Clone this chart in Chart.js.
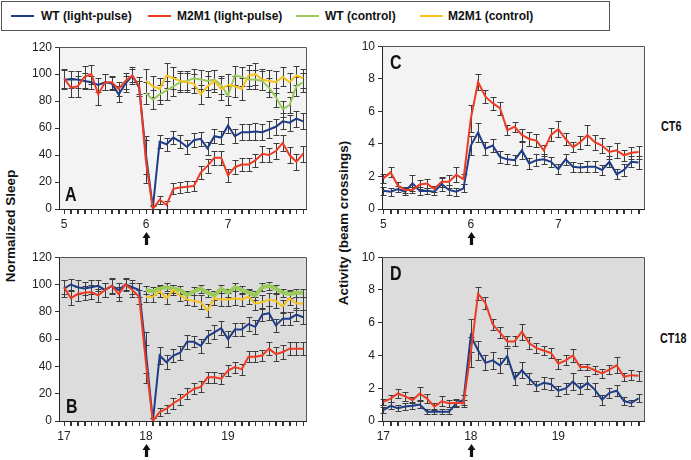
<!DOCTYPE html>
<html>
<head>
<meta charset="utf-8">
<title>Sleep and activity after a light pulse</title>
<script src="https://cdn.jsdelivr.net/npm/chart.js@4.4.1/dist/chart.umd.min.js"></script>
<style>
  html, body { margin: 0; padding: 0; background: #fff; }
  body { position: relative; width: 691px; height: 460px; overflow: hidden; font-family: "Liberation Sans", Arial, sans-serif; color: #111; }
  canvas { position: absolute; }
  #legend { position: absolute; left: 1px; top: 1px; width: 609px; height: 30px; box-sizing: border-box; border: 1px solid #555; }
  .key { position: absolute; top: 9px; font-size: 12px; font-weight: bold; white-space: nowrap; line-height: 14px; }
  .key i { position: absolute; top: 6px; width: 23px; height: 2px; }
  .ytitle { position: absolute; width: 240px; height: 18px; line-height: 18px; text-align: center; font-size: 13.5px; font-weight: bold; white-space: nowrap; transform: rotate(-90deg); }
  .ct { position: absolute; font: bold 15px "Liberation Sans", Arial, sans-serif; line-height: 17px; transform: scaleX(0.72); transform-origin: 0 0; }
</style>
</head>
<body>
<div id="legend"></div>
<div class="key" style="left:41px"><i style="left:-30px;background:#1f3d86"></i>WT (light-pulse)</div>
<div class="key" style="left:177px"><i style="left:-29px;background:#ee3b24"></i>M2M1 (light-pulse)</div>
<div class="key" style="left:325px"><i style="left:-29px;background:#9acb5a"></i>WT (control)</div>
<div class="key" style="left:448px"><i style="left:-28px;background:#f6c21b"></i>M2M1 (control)</div>

<div class="ytitle" style="left:-109px;top:217px">Normalized Sleep</div>
<div class="ytitle" style="left:224px;top:214px">Activity (beam crossings)</div>
<div class="ct" style="left:661px;top:117px">CT6</div>
<div class="ct" style="left:660px;top:329px">CT18</div>

<canvas id="chartA" width="292" height="213" style="left:20px;top:37px"></canvas>
<canvas id="chartB" width="292" height="213" style="left:20px;top:247px"></canvas>
<canvas id="chartC" width="300" height="214" style="left:350px;top:36px"></canvas>
<canvas id="chartD" width="300" height="213" style="left:350px;top:247px"></canvas>

<script>
// 2-hour bins, 12 per day; light pulse at the start of bin 12
const BINS_PER_DAY = 12;
const CONTROL_START_BIN = 12;

// Panel A: sleep, pulse at CT6 (days 5-7)
const sleepWtPulseA   = [96,96,96,95,94,92,94,93,85,93,99,90,40,1,50,48,53,50,46,51,52,45,54,53,62,54,57,57,57.5,57,59,61,65,64,67,65];
const sleepM2PulseA   = [97,90,91,98,100,85,94,94,89,95,99,91,35,0,7,3,15,16,16.5,17,27,32,38,38,25,31,33,33,36,41,40,43,49,40,35,41];
const sleepWtCtrlA    = [86,81,85,88,91,94,95,97,96,95,96,92,84,99,98,96,96,95,90,83,74,77,91,94];
const sleepM2CtrlA    = [95,91,89,99,97,95,94,93,85,91,95,89,92,91,89,99,100,96,95,94,98,94,99,97];
const errWtPulseA     = [7,6,6,6,5,5,6,5,6,6,5,5,14,2,5,5,5,5,5,5,5,5,5,5,6,5,6,6,6,6,6,6,6,6,6,6];
const errM2PulseA     = [7,7,8,8,7,8,6,5,5,6,6,7,16,2,3,3,4,4,4,4,5,5,5,5,5,5,5,5,5,6,5,6,6,6,6,6];
const errWtCtrlA      = [8,7,7,7,7,7,7,7,7,7,7,7,7,7,7,7,7,7,7,7,6,6,7,7];
const errM2CtrlA      = [9,8,8,9,8,7,7,7,7,8,8,8,8,8,8,8,8,8,8,8,7,7,7,7];

// Panel B: sleep, pulse at CT18 (days 17-19)
const sleepWtPulseB   = [97,100,98,97,98,99,96,99,96,100,98,96,50,0,48,43,48,50,58,58,55,62,65,68,60,67,67,71,69,78,79,70,75,75,78,76];
const sleepM2PulseB   = [98,90,93,94,94.5,92,96,99,93,100,96,91,42,0,6.5,9,13,16,20,23.5,25,32,32,31,37,39.5,38,47,47,48,53,49,50.5,53,53,53];
const sleepWtCtrlB    = [96,95,97,98,97,96,92,95,97,94,92,97,94,98,96,94,92,98,99,97,94,93,94,94];
const sleepM2CtrlB    = [91,91,95,90,96,92,89,88,87,81,90,89,89,90,89,91,86,87,89,88,84,90,86,86];
const errWtPulseB     = [6,4,5,5,5,4,5,6,5,4,5,5,15,2,6,5,5,5,5,4,5,5,5,5,6,5,5,5,5,5,5,5,5,5,5,5];
const errM2PulseB     = [5,5,5,5,5,5,5,5,5,5,5,5,14,2,3,3,4,4,4,4,4,4,4,4,4,4,4,4,4,4,5,5,5,5,5,5];
const errWtCtrlB      = [3,3,3,3,3,3,3,3,3,3,3,3,3,3,3,3,3,3,3,3,3,3,3,3];
const errM2CtrlB      = [4,4,4,4,4,4,4,4,5,5,5,5,5,5,5,5,5,5,5,5,5,5,5,5];

// Panel C: activity, pulse at CT6
const actWtPulseC     = [1.12,1.06,1.23,1.06,1.58,1.1,1.12,1.06,1.53,1.17,1.06,1.27,3.9,4.7,3.7,3.9,3.2,3.05,3.0,3.6,2.8,3.0,3.05,2.9,2.45,3.05,2.6,2.55,2.6,2.6,2.4,2.9,2.13,2.4,2.9,2.85];
const actM2PulseC     = [1.88,2.25,1.43,1.16,1.16,1.5,1.56,1.23,1.68,1.68,2.1,1.84,5.56,7.8,6.9,6.5,6.2,4.85,5.05,4.55,4.3,4.2,3.6,4.55,4.9,4.3,3.8,4.1,4.55,4.1,3.9,3.5,3.6,3.3,3.45,3.5];
const errActWtC       = [0.25,0.25,0.2,0.2,0.5,0.25,0.2,0.2,0.4,0.3,0.25,0.25,0.6,0.6,0.4,0.4,0.35,0.3,0.3,0.5,0.35,0.35,0.3,0.3,0.3,0.35,0.3,0.3,0.35,0.35,0.3,0.35,0.3,0.35,0.35,0.4];
const errActM2C       = [0.3,0.3,0.2,0.2,0.2,0.3,0.3,0.2,0.3,0.4,0.45,0.3,0.8,0.5,0.4,0.4,0.4,0.3,0.3,0.35,0.4,0.4,0.35,0.4,0.5,0.35,0.3,0.4,0.6,0.45,0.45,0.4,0.45,0.35,0.35,0.4];

// Panel D: activity, pulse at CT18
const actWtPulseD     = [0.67,0.93,0.78,0.89,0.93,1.0,0.57,0.57,0.57,0.57,1.08,1.28,5.2,4.3,3.55,3.7,3.4,3.96,2.6,3.1,2.6,2.13,2.33,2.25,1.85,1.99,2.4,1.99,2.33,1.92,1.3,1.72,1.85,1.22,1.1,1.38];
const actM2PulseD     = [1.17,1.37,1.68,1.5,1.27,1.68,1.37,0.87,1.2,1.08,1.12,1.08,4.2,7.77,7.2,5.9,5.4,4.86,4.86,5.45,4.76,4.45,4.3,4.15,3.5,3.7,4.0,3.3,3.3,3.1,2.9,3.14,3.4,2.7,2.8,2.76];
const errActWtD       = [0.2,0.2,0.2,0.2,0.2,0.2,0.15,0.15,0.15,0.15,0.2,0.3,1.0,0.6,0.45,0.5,0.45,0.5,0.4,0.5,0.35,0.3,0.35,0.35,0.3,0.35,0.5,0.35,0.4,0.4,0.3,0.3,0.35,0.25,0.2,0.25];
const errActM2D       = [0.2,0.2,0.25,0.3,0.2,0.4,0.3,0.2,0.3,0.2,0.2,0.2,0.9,0.4,0.35,0.35,0.35,0.3,0.3,0.5,0.35,0.3,0.3,0.3,0.3,0.3,0.4,0.2,0.2,0.25,0.3,0.3,0.5,0.25,0.3,0.3];

// Axis ticks
const sleepTicks    = [0, 20, 40, 60, 80, 100, 120];
const activityTicks = [0, 2, 4, 6, 8, 10];

const BLUE = '#1f3d86', RED = '#ee3b24', GREEN = '#9acb5a', YELLOW = '#f6c21b';
const FONT = '"Liberation Sans", Arial, sans-serif';

// bin index -> day position
function points(day0, startBin, vals) {
  return vals.map((v, i) => ({ x: day0 + (startBin + i) / BINS_PER_DAY, y: v }));
}

function line(label, color, day0, startBin, vals, err, width, order) {
  return {
    label, data: points(day0, startBin, vals), err,
    borderColor: color, backgroundColor: color,
    borderWidth: width, pointRadius: 0, tension: 0, order
  };
}

// background, error bars, frame, bin ticks, panel letter and pulse arrow
const panelPlugin = {
  id: 'panel',
  beforeDraw(chart, args, o) {
    const { ctx, chartArea: a } = chart;
    ctx.save();
    ctx.fillStyle = o.bg;
    ctx.fillRect(a.left, a.top, a.right - a.left, a.bottom - a.top);
    ctx.restore();
  },
  beforeDatasetsDraw(chart) {
    const { ctx } = chart;
    const xs = chart.scales.x, ys = chart.scales.y;
    ctx.save();
    ctx.strokeStyle = '#3c3c3c';
    ctx.lineWidth = 1;
    chart.data.datasets.forEach(ds => {
      if (!ds.err) return;
      ds.data.forEach((p, i) => {
        const e = ds.err[i];
        const px = Math.round(xs.getPixelForValue(p.x)) + 0.5;
        const yTop = Math.round(ys.getPixelForValue(p.y + e)) + 0.5;
        const yBot = Math.round(ys.getPixelForValue(Math.max(ys.min, p.y - e))) + 0.5;
        ctx.beginPath();
        ctx.moveTo(px, yTop); ctx.lineTo(px, yBot);
        ctx.moveTo(px - 3, yTop); ctx.lineTo(px + 3, yTop);
        ctx.moveTo(px - 3, yBot); ctx.lineTo(px + 3, yBot);
        ctx.stroke();
      });
    });
    ctx.restore();
  },
  afterDraw(chart, args, o) {
    const { ctx, chartArea: a } = chart;
    const xs = chart.scales.x;
    ctx.save();
    // frame (top/right)
    ctx.strokeStyle = '#555';
    ctx.lineWidth = 1;
    ctx.beginPath();
    ctx.moveTo(a.left, Math.round(a.top) + 0.5);
    ctx.lineTo(Math.round(a.right) + 0.5, Math.round(a.top) + 0.5);
    ctx.lineTo(Math.round(a.right) + 0.5, a.bottom);
    ctx.stroke();
    // a tick mark for every 2-h bin
    ctx.strokeStyle = '#333';
    ctx.beginPath();
    o.binTicks.forEach(v => {
      const tx = Math.round(xs.getPixelForValue(v)) + 0.5;
      ctx.moveTo(tx, a.bottom);
      ctx.lineTo(tx, a.bottom + 5);
    });
    ctx.stroke();
    // pulse arrow
    ctx.fillStyle = '#111';
    const ax = Math.round(xs.getPixelForValue(o.arrowAt)) + 0.5;
    const t = a.bottom + 23;
    ctx.beginPath();
    ctx.moveTo(ax, t);
    ctx.lineTo(ax + 4, t + 6);
    ctx.lineTo(ax + 1.6, t + 6);
    ctx.lineTo(ax + 1.6, t + 13);
    ctx.lineTo(ax - 1.6, t + 13);
    ctx.lineTo(ax - 1.6, t + 6);
    ctx.lineTo(ax - 4, t + 6);
    ctx.closePath();
    ctx.fill();
    // panel letter, condensed
    const ly = o.letterTop ? a.top + 23 : a.bottom - 8;
    ctx.translate(a.left + o.letterDx, ly);
    ctx.scale(0.8, 1);
    ctx.font = 'bold 20px ' + FONT;
    ctx.textBaseline = 'alphabetic';
    ctx.fillText(o.letter, 0, 0);
    ctx.restore();
  }
};

function makePanel(id, p) {
  const xTicks = [];
  for (let k = 0; k < 3 * BINS_PER_DAY; k++) xTicks.push(p.day0 + k / BINS_PER_DAY);
  p.panel.binTicks = xTicks;
  return new Chart(document.getElementById(id), {
    type: 'line',
    data: { datasets: p.datasets },
    plugins: [panelPlugin],
    options: {
      responsive: false,
      animation: false,
      events: [],
      layout: { padding: p.pad },
      plugins: {
        legend: { display: false },
        tooltip: { enabled: false },
        panel: p.panel
      },
      scales: {
        x: {
          type: 'linear',
          min: p.xMin, max: p.xMax,
          afterBuildTicks: s => { s.ticks = xTicks.map(v => ({ value: v })); },
          afterFit: s => { s.height = 21; },
          ticks: {
            source: 'data', autoSkip: false, maxRotation: 0, padding: 3,
            color: '#222', font: { family: FONT, size: 12 },
            callback: v => (Math.abs(v - Math.round(v)) < 1e-6 ? String(Math.round(v)) : '')
          },
          grid: { drawOnChartArea: false, tickLength: 5, color: '#333' },
          border: { color: '#222' }
        },
        y: {
          min: 0, max: p.yTicks[p.yTicks.length - 1],
          afterBuildTicks: s => { s.ticks = p.yTicks.map(v => ({ value: v })); },
          afterFit: s => { s.width = p.yWidth; },
          ticks: { padding: 3, color: '#222', font: { family: FONT, size: 12 } },
          grid: { drawOnChartArea: false, tickLength: 4, color: '#333' },
          border: { color: '#222' }
        }
      }
    }
  });
}

makePanel('chartA', {
  day0: 5, xMin: 4.939, xMax: 7.951, yTicks: sleepTicks, yWidth: 39,
  pad: { top: 10, right: 6, bottom: 20, left: 0 },
  panel: { bg: '#f3f3f3', letter: 'A', letterTop: false, letterDx: 6, arrowAt: 6 },
  datasets: [
    line('M2M1 (light-pulse)', RED, 5, 0, sleepM2PulseA, errM2PulseA, 2, 1),
    line('WT (light-pulse)', BLUE, 5, 0, sleepWtPulseA, errWtPulseA, 2, 2),
    line('M2M1 (control)', YELLOW, 5, CONTROL_START_BIN, sleepM2CtrlA, errM2CtrlA, 2, 3),
    line('WT (control)', GREEN, 5, CONTROL_START_BIN, sleepWtCtrlA, errWtCtrlA, 2, 4)
  ]
});

makePanel('chartB', {
  day0: 17, xMin: 16.939, xMax: 19.951, yTicks: sleepTicks, yWidth: 39,
  pad: { top: 10, right: 6, bottom: 18, left: 0 },
  panel: { bg: '#dcdcdc', letter: 'B', letterTop: false, letterDx: 7, arrowAt: 18 },
  datasets: [
    line('M2M1 (light-pulse)', RED, 17, 0, sleepM2PulseB, errM2PulseB, 2, 1),
    line('WT (light-pulse)', BLUE, 17, 0, sleepWtPulseB, errWtPulseB, 2, 2),
    line('M2M1 (control)', YELLOW, 17, CONTROL_START_BIN, sleepM2CtrlB, errM2CtrlB, 2, 3),
    line('WT (control)', GREEN, 17, CONTROL_START_BIN, sleepWtCtrlB, errWtCtrlB, 4, 4)
  ]
});

makePanel('chartC', {
  day0: 5, xMin: 4.985, xMax: 7.979, yTicks: activityTicks, yWidth: 32,
  pad: { top: 10, right: 6, bottom: 20, left: 0 },
  panel: { bg: '#f3f3f3', letter: 'C', letterTop: true, letterDx: 8, arrowAt: 6 },
  datasets: [
    line('M2M1 (light-pulse)', RED, 5, 0, actM2PulseC, errActM2C, 2, 1),
    line('WT (light-pulse)', BLUE, 5, 0, actWtPulseC, errActWtC, 2, 2)
  ]
});

makePanel('chartD', {
  day0: 17, xMin: 16.985, xMax: 19.979, yTicks: activityTicks, yWidth: 32,
  pad: { top: 10, right: 6, bottom: 18, left: 0 },
  panel: { bg: '#dcdcdc', letter: 'D', letterTop: true, letterDx: 8, arrowAt: 18 },
  datasets: [
    line('M2M1 (light-pulse)', RED, 17, 0, actM2PulseD, errActM2D, 2, 1),
    line('WT (light-pulse)', BLUE, 17, 0, actWtPulseD, errActWtD, 2, 2)
  ]
});
</script>
</body>
</html>
